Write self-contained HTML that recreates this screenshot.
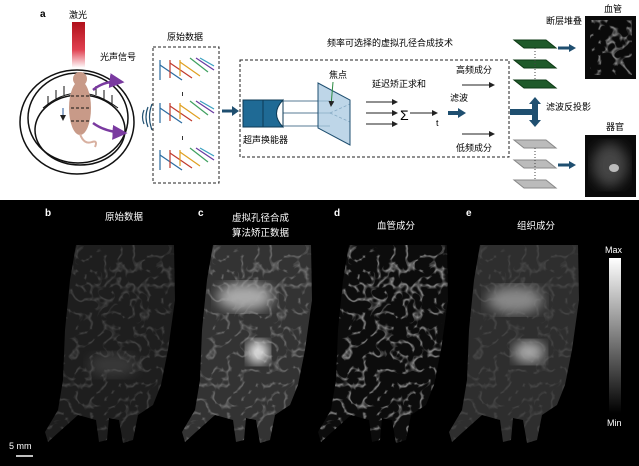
<!DOCTYPE html>
<html><head><meta charset="utf-8"><style>
html,body{margin:0;padding:0;width:639px;height:466px;overflow:hidden;background:#fff}
text{font-family:"Liberation Sans","Noto Sans CJK SC",sans-serif}
</style></head><body>
<svg width="639" height="466" viewBox="0 0 639 466" xmlns="http://www.w3.org/2000/svg">
<defs>
<linearGradient id="laser" x1="0" y1="0" x2="0" y2="1"><stop offset="0" stop-color="#b0101a"/><stop offset="0.6" stop-color="#e04050"/><stop offset="1" stop-color="#fff"/></linearGradient>
<linearGradient id="cb" x1="0" y1="0" x2="0" y2="1"><stop offset="0" stop-color="#fff"/><stop offset="1" stop-color="#000"/></linearGradient>
<marker id="ah" markerWidth="6" markerHeight="6" refX="5" refY="3" orient="auto"><path d="M0,0 L6,3 L0,6 Z" fill="#222"/></marker>
<marker id="ap" markerWidth="6" markerHeight="6" refX="5" refY="3" orient="auto"><path d="M0,0 L6,3 L0,6 Z" fill="#7a3aa0"/></marker>
<filter id="ves" x="0" y="0" width="1" height="1"><feTurbulence type="turbulence" baseFrequency="0.07" numOctaves="2" seed="7"/><feColorMatrix type="matrix" values="0 0 0 0 1  0 0 0 0 1  0 0 0 0 1  0 0 0 -5 1.0"/></filter>
<filter id="blur2"><feGaussianBlur stdDeviation="6"/></filter>
<path id="mouse" d="M213,245 L311,245 L312,300 L305,350 L298,385 L290,405 L275,415 L270,440 L260,443 L256,420 L246,418 L244,440 L236,442 L233,420 L215,415 L196,432 L185,442 L182,432 L195,410 L200,380 L202,330 L207,280 Z"/>
<clipPath id="cm"><use href="#mouse"/></clipPath>
</defs>

<text x="40" y="17" font-size="10" font-weight="bold">a</text>
<text x="69" y="18" font-size="9">激光</text>
<rect x="72" y="22" width="13" height="46" fill="url(#laser)"/>
<text x="100" y="60" font-size="9">光声信号</text>
<ellipse cx="77" cy="122" rx="57" ry="52" fill="none" stroke="#111" stroke-width="1.5"/>
<ellipse cx="78" cy="118" rx="50" ry="45" fill="none" stroke="#111" stroke-width="1.5"/>
<ellipse cx="80" cy="130" rx="45" ry="35" fill="none" stroke="#111" stroke-width="1.5"/>
<path d="M43,108 Q78,78 118,108" fill="none" stroke="#111" stroke-width="1"/>
<g stroke="#111" stroke-width="1"><line x1="48" y1="96" x2="48" y2="104"/><line x1="56" y1="90" x2="56" y2="99"/><line x1="64" y1="86" x2="64" y2="95"/><line x1="96" y1="86" x2="96" y2="95"/><line x1="104" y1="90" x2="104" y2="99"/><line x1="112" y1="95" x2="112" y2="104"/></g>
<ellipse cx="80" cy="108" rx="11" ry="27" fill="#c89a88"/>
<ellipse cx="80" cy="79" rx="7" ry="7" fill="#c89a88"/>
<path d="M80,134 Q84,145 92,142 Q98,140 95,147" fill="none" stroke="#d8b0a0" stroke-width="2"/>
<g stroke="#111" stroke-dasharray="3,2"><line x1="71" y1="96" x2="89" y2="96"/><line x1="71" y1="108" x2="89" y2="108"/><line x1="71" y1="121" x2="89" y2="121"/></g>
<line x1="63" y1="108" x2="63" y2="120" stroke="#2a5a9a" stroke-width="1" marker-end="url(#ah)"/>
<path d="M93,90 Q105,80 122,82" fill="none" stroke="#7a3aa0" stroke-width="2.5" marker-end="url(#ap)"/>
<path d="M93,123 Q105,132 125,133" fill="none" stroke="#7a3aa0" stroke-width="2.5" marker-end="url(#ap)"/>
<g fill="none" stroke="#1f4f70" stroke-width="1.2"><path d="M144,110 Q141,117 144,124"/><path d="M148,107 Q144,117 148,127"/><path d="M152,104 Q147,117 152,130"/></g>
<text x="167" y="40" font-size="9">原始数据</text>
<rect x="153" y="47" width="66" height="136" fill="none" stroke="#222" stroke-dasharray="3,2"/>
<g stroke-width="1.2">
<g id="sig"><line x1="160" y1="60" x2="160" y2="80" stroke="#2a6aa0"/><line x1="160" y1="65" x2="182" y2="80" stroke="#2a6aa0"/><line x1="170" y1="60" x2="170" y2="78" stroke="#c0392b"/><line x1="170" y1="63" x2="192" y2="78" stroke="#c0392b"/><line x1="180" y1="60" x2="180" y2="76" stroke="#e0a020"/><line x1="180" y1="62" x2="200" y2="76" stroke="#e0a020"/><line x1="190" y1="58" x2="208" y2="72" stroke="#40a060"/><line x1="196" y1="58" x2="214" y2="70" stroke="#6a3aa0"/><line x1="200" y1="58" x2="214" y2="66" stroke="#3aa0c0"/></g>
<use href="#sig" y="43"/><use href="#sig" y="90"/>
</g>
<g fill="#333"><rect x="182" y="92" width="1" height="4"/><rect x="182" y="136" width="1" height="4"/></g>
<path d="M222,111 L233,111" stroke="#1f4f70" stroke-width="3"/><path d="M232,106 L239,111 L232,116 Z" fill="#1f4f70"/>
<text x="327" y="46" font-size="9">频率可选择的虚拟孔径合成技术</text>
<rect x="240" y="60" width="269" height="97" fill="none" stroke="#222" stroke-dasharray="3,2"/>
<rect x="243" y="100" width="40" height="27" fill="#1f6a95" stroke="#0d3a55"/>
<line x1="263" y1="100" x2="263" y2="127" stroke="#0d3a55"/>
<path d="M283,100 Q270,113.5 283,127 Z" fill="#fff" stroke="#0d3a55"/>
<text x="243" y="143" font-size="9">超声换能器</text>
<g stroke="#1f4f70" stroke-width="0.8"><line x1="283" y1="101" x2="330" y2="101"/><line x1="283" y1="113" x2="330" y2="113"/><line x1="283" y1="126" x2="330" y2="126"/><line x1="330" y1="113" x2="350" y2="104" stroke-dasharray="3,2"/><line x1="330" y1="113" x2="350" y2="122" stroke-dasharray="3,2"/></g>
<path d="M318,83 L350,100 L350,145 L318,128 Z" fill="#a8c8e0" fill-opacity="0.75" stroke="#1f4f70"/>
<text x="329" y="78" font-size="9">焦点</text>
<line x1="333" y1="82" x2="331" y2="106" stroke="#2a8a40" stroke-width="1" marker-end="url(#ah)"/>
<text x="372" y="87" font-size="9">延迟矫正求和</text>
<g stroke="#222" stroke-width="1" marker-end="url(#ah)"><line x1="366" y1="102" x2="397" y2="102"/><line x1="366" y1="113" x2="397" y2="113"/><line x1="366" y1="124" x2="397" y2="124"/></g>
<text x="400" y="120" font-size="14">Σ</text>
<line x1="410" y1="113" x2="437" y2="113" stroke="#222" marker-end="url(#ah)"/>
<text x="436" y="126" font-size="9">t</text>
<text x="450" y="101" font-size="9">滤波</text>
<path d="M448,113 L459,113" stroke="#1f4f70" stroke-width="4"/><path d="M458,108 L466,113 L458,118 Z" fill="#1f4f70"/>
<text x="456" y="73" font-size="9">高频成分</text>
<line x1="462" y1="85" x2="494" y2="85" stroke="#222" marker-end="url(#ah)"/>
<line x1="462" y1="134" x2="494" y2="134" stroke="#222" marker-end="url(#ah)"/>
<text x="456" y="151" font-size="9">低频成分</text>
<text x="546" y="24" font-size="9">断层堆叠</text>
<text x="604" y="12" font-size="9">血管</text>
<g fill="#1f5a2a" stroke="#0d3a15"><path d="M514,40 L546,40 L556,48 L524,48 Z"/><path d="M514,60 L546,60 L556,68 L524,68 Z"/><path d="M514,80 L546,80 L556,88 L524,88 Z"/></g>
<line x1="535" y1="48" x2="535" y2="80" stroke="#444" stroke-dasharray="1,2"/>
<path d="M558,48 L570,48" stroke="#1f4f70" stroke-width="3"/><path d="M569,44 L576,48 L569,52 Z" fill="#1f4f70"/>
<rect x="585" y="16" width="51" height="63" fill="#0a0a0a"/>
<rect x="590" y="20" width="42" height="55" fill="#555" filter="url(#ves)" opacity="0.55"/>
<path d="M510,112 L532,112" stroke="#1f4f70" stroke-width="6"/>
<path d="M535,104 L535,120" stroke="#1f4f70" stroke-width="6"/>
<path d="M529,104 L535,97 L541,104 Z" fill="#1f4f70"/><path d="M529,120 L535,127 L541,120 Z" fill="#1f4f70"/>
<text x="546" y="110" font-size="9">滤波反投影</text>
<text x="606" y="130" font-size="9">器官</text>
<g fill="#bbb" stroke="#888"><path d="M514,140 L546,140 L556,148 L524,148 Z"/><path d="M514,160 L546,160 L556,168 L524,168 Z"/><path d="M514,180 L546,180 L556,188 L524,188 Z"/></g>
<line x1="535" y1="148" x2="535" y2="180" stroke="#444" stroke-dasharray="1,2"/>
<path d="M558,165 L570,165" stroke="#1f4f70" stroke-width="3"/><path d="M569,161 L576,165 L569,169 Z" fill="#1f4f70"/>
<rect x="585" y="135" width="51" height="62" fill="#0a0a0a"/>
<ellipse cx="610" cy="165" rx="18" ry="22" fill="#444" filter="url(#blur2)"/>
<ellipse cx="614" cy="168" rx="5" ry="4" fill="#bbb"/>

<rect x="0" y="200" width="639" height="266" fill="#000"/>
<g fill="#fff">
<text x="45" y="216" font-size="10" font-weight="bold">b</text>
<text x="105" y="220" font-size="9.5">原始数据</text>
<text x="198" y="216" font-size="10" font-weight="bold">c</text>
<text x="232" y="221" font-size="9.5">虚拟孔径合成</text>
<text x="232" y="236" font-size="9.5">算法矫正数据</text>
<text x="334" y="216" font-size="10" font-weight="bold">d</text>
<text x="377" y="229" font-size="9.5">血管成分</text>
<text x="466" y="216" font-size="10" font-weight="bold">e</text>
<text x="517" y="229" font-size="9.5">组织成分</text>
<text x="605" y="253" font-size="9">Max</text>
<text x="607" y="426" font-size="9">Min</text>
<text x="9" y="449" font-size="9">5 mm</text>
</g>
<rect x="609" y="258" width="12" height="155" fill="url(#cb)"/>
<line x1="16" y1="456" x2="33" y2="456" stroke="#fff" stroke-width="1.5"/>

<g transform="translate(-137,0)" clip-path="url(#cm)">
<rect x="180" y="240" width="140" height="210" fill="#1e1e1e"/>
<rect x="180" y="240" width="140" height="210" filter="url(#ves)" opacity="0.18"/>
<ellipse cx="250" cy="365" rx="25" ry="12" fill="#555" opacity="0.5" filter="url(#blur2)"/>
</g>
<g clip-path="url(#cm)">
<rect x="180" y="240" width="140" height="210" fill="#333"/>
<rect x="180" y="240" width="140" height="210" filter="url(#ves)" opacity="0.3"/>
<ellipse cx="245" cy="297" rx="28" ry="14" fill="#aaa" filter="url(#blur2)"/>
<ellipse cx="258" cy="352" rx="11" ry="12" fill="#eee" filter="url(#blur2)"/>
</g>
<g transform="translate(136,0)" clip-path="url(#cm)">
<rect x="180" y="240" width="140" height="210" fill="#0c0c0c"/>
<rect x="180" y="240" width="140" height="210" filter="url(#ves)" opacity="0.55"/>
</g>
<g transform="translate(267,0)" clip-path="url(#cm)">
<rect x="180" y="240" width="140" height="210" fill="#2e2e2e"/>
<rect x="180" y="240" width="140" height="210" filter="url(#ves)" opacity="0.12"/>
<ellipse cx="248" cy="300" rx="28" ry="14" fill="#888" filter="url(#blur2)"/>
<ellipse cx="262" cy="352" rx="16" ry="11" fill="#aaa" filter="url(#blur2)"/>
</g>
</svg>
</body></html>
